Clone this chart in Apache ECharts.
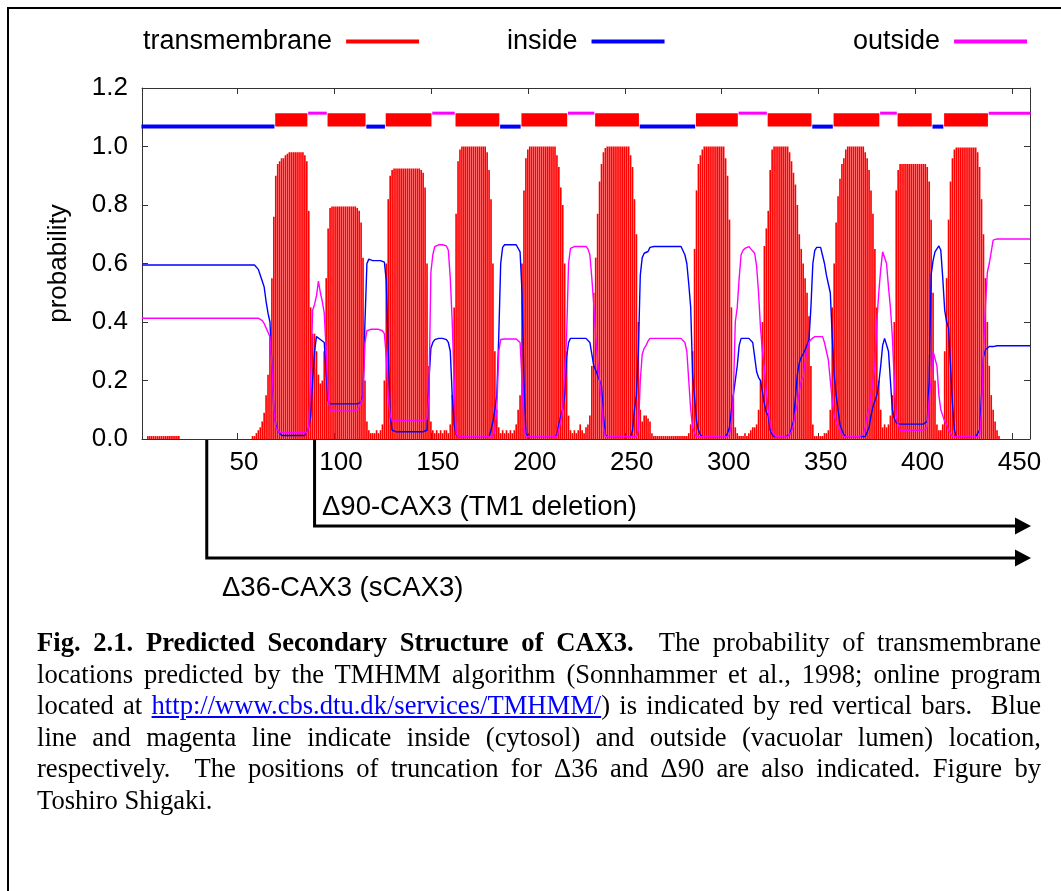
<!DOCTYPE html>
<html>
<head>
<meta charset="utf-8">
<title>TMHMM prediction of CAX3</title>
<script src="https://cdn.jsdelivr.net/npm/echarts@6/dist/echarts.min.js"></script>
<style>
    html, body { margin: 0; padding: 0; background: #fff; }
    #chartMain { position: absolute; left: 0; top: 0; width: 1061px; height: 891px; }
    #caption {
        position: absolute; left: 37px; top: 627px; width: 1004px;
        font-family: 'Liberation Serif', 'Times New Roman', serif;
        font-size: 26.6px; line-height: 31.6px; color: #000;
    }
    #caption .ln { text-align: justify; text-align-last: justify; white-space: nowrap; }
    #caption .last { text-align: left; text-align-last: left; }
    #caption a { color: #0000ff; text-decoration: underline; }
</style>
</head>
<body>
<div id="chartMain"></div>
<div id="caption">
    <div class="ln"><b>Fig. 2.1. Predicted Secondary Structure of CAX3.</b>&nbsp; The probability of transmembrane</div>
    <div class="ln">locations predicted by the TMHMM algorithm (Sonnhammer et al., 1998; online program</div>
    <div class="ln">located at <a>http://www.cbs.dtu.dk/services/TMHMM/</a>) is indicated by red vertical bars.&nbsp; Blue</div>
    <div class="ln">line and magenta line indicate inside (cytosol) and outside (vacuolar lumen) location,</div>
    <div class="ln">respectively.&nbsp; The positions of truncation for &Delta;36 and &Delta;90 are also indicated. Figure by</div>
    <div class="ln last">Toshiro Shigaki.</div>
</div>
<script>
    // per-residue posterior probabilities (residue 1..459)
    const tmProb = [
        0,0,0,0.01,0.01,0.01,0.01,0.01,0.01,0.01,
        0.01,0.01,0.01,0.01,0.01,0.01,0.01,0.01,0.01,0.01,
        0,0,0,0,0,0,0,0,0,0,
        0,0,0,0,0,0,0,0,0,0,
        0,0,0,0,0,0,0,0,0,0,
        0,0,0,0,0,0,0,0.01,0.01,0.02,
        0.03,0.04,0.06,0.09,0.15,0.22,0.35,0.55,0.76,0.9,
        0.94,0.95,0.96,0.96,0.97,0.975,0.98,0.98,0.98,0.98,
        0.98,0.98,0.98,0.98,0.97,0.95,0.78,0.45,0.36,0.36,
        0.3,0.22,0.19,0.2,0.3,0.55,0.72,0.79,0.795,0.795,
        0.795,0.795,0.795,0.795,0.795,0.795,0.795,0.795,0.795,0.795,
        0.795,0.79,0.78,0.74,0.62,0.2,0.06,0.03,0.02,0.02,
        0.02,0.03,0.02,0.03,0.05,0.2,0.6,0.82,0.9,0.92,
        0.925,0.925,0.925,0.925,0.925,0.925,0.925,0.925,0.925,0.925,
        0.925,0.925,0.925,0.925,0.92,0.91,0.86,0.6,0.25,0.06,
        0.03,0.02,0.03,0.02,0.03,0.02,0.03,0.03,0.02,0.05,
        0.15,0.45,0.77,0.95,0.99,1,1,1,1,1,
        1,1,1,1,1,1,1,1,0.98,0.92,
        0.82,0.6,0.3,0.1,0.04,0.02,0.03,0.02,0.03,0.02,
        0.03,0.02,0.03,0.05,0.1,0.15,0.6,0.85,0.96,0.99,
        1,1,1,1,1,1,1,1,1,1,
        1,1,1,1,0.97,0.93,0.86,0.8,0.6,0.3,
        0.08,0.03,0.02,0.03,0.02,0.03,0.05,0.03,0.02,0.04,
        0.05,0.08,0.25,0.5,0.62,0.77,0.88,0.94,0.98,0.995,
        1,1,1,1,1,1,1,1,1,1,
        1,1,0.97,0.93,0.82,0.7,0.4,0.1,0.06,0.08,
        0.08,0.07,0.06,0.02,0.01,0.01,0.01,0.01,0.01,0.01,
        0.01,0.01,0.01,0.01,0.01,0.01,0.01,0.01,0.01,0.01,
        0.01,0.01,0.02,0.05,0.3,0.65,0.85,0.94,0.97,0.99,
        1,1,1,1,1,1,1,1,1,1,
        1,0.96,0.9,0.75,0.45,0.15,0.04,0.02,0.01,0.01,
        0.01,0.02,0.01,0.02,0.03,0.04,0.04,0.05,0.1,0.2,
        0.4,0.66,0.72,0.78,0.92,0.99,1,1,1,1,
        1,1,1,1,0.98,0.95,0.91,0.87,0.8,0.7,
        0.65,0.6,0.55,0.5,0.42,0.25,0.05,0.01,0.01,0.01,
        0.01,0.01,0.02,0.02,0.03,0.1,0.45,0.6,0.74,0.83,
        0.89,0.94,0.96,0.99,1,1,1,1,1,1,
        1,1,1,0.98,0.96,0.92,0.85,0.77,0.65,0.45,
        0.2,0.1,0.04,0.05,0.04,0.05,0.08,0.15,0.4,0.85,
        0.92,0.94,0.94,0.94,0.94,0.94,0.94,0.94,0.94,0.94,
        0.94,0.94,0.94,0.94,0.94,0.93,0.88,0.75,0.5,0.2,
        0.05,0.03,0.03,0.05,0.3,0.55,0.75,0.88,0.96,0.99,
        0.997,0.997,0.997,0.997,0.997,0.997,0.997,0.997,0.997,0.997,
        0.997,0.98,0.93,0.82,0.7,0.55,0.4,0.25,0.15,0.1,
        0.06,0.03,0.01,0,0,0,0,0,0,0,
        0,0,0,0,0,0,0,0,0
    ];
    const insideProb = [
        0.595,0.595,0.595,0.595,0.595,0.595,0.595,0.595,0.595,0.595,
        0.595,0.595,0.595,0.595,0.595,0.595,0.595,0.595,0.595,0.595,
        0.595,0.595,0.595,0.595,0.595,0.595,0.595,0.595,0.595,0.595,
        0.595,0.595,0.595,0.595,0.595,0.595,0.595,0.595,0.595,0.595,
        0.595,0.595,0.595,0.595,0.595,0.595,0.595,0.595,0.595,0.595,
        0.595,0.595,0.595,0.595,0.595,0.595,0.595,0.595,0.595,0.595,
        0.58,0.56,0.54,0.52,0.47,0.43,0.4,0.25,0.1,0.05,
        0.03,0.02,0.012,0.012,0.012,0.012,0.012,0.012,0.012,0.012,
        0.012,0.012,0.012,0.012,0.012,0.012,0.04,0.08,0.2,0.3,
        0.35,0.355,0.34,0.335,0.33,0.22,0.13,0.12,0.12,0.12,
        0.12,0.12,0.12,0.12,0.12,0.12,0.12,0.12,0.12,0.12,
        0.12,0.12,0.12,0.125,0.15,0.4,0.6,0.615,0.61,0.61,
        0.61,0.61,0.61,0.61,0.61,0.605,0.54,0.3,0.08,0.03,
        0.025,0.025,0.025,0.025,0.025,0.025,0.025,0.025,0.025,0.025,
        0.025,0.025,0.025,0.025,0.025,0.025,0.025,0.03,0.2,0.31,
        0.33,0.34,0.344,0.344,0.344,0.344,0.344,0.34,0.33,0.3,
        0.15,0.05,0.015,0.008,0.008,0.008,0.008,0.008,0.008,0.008,
        0.008,0.008,0.008,0.008,0.008,0.008,0.008,0.008,0.008,0.008,
        0.03,0.06,0.1,0.15,0.35,0.6,0.655,0.664,0.664,0.664,
        0.664,0.664,0.664,0.664,0.66,0.64,0.5,0.2,0.02,0.008,
        0.008,0.008,0.008,0.008,0.008,0.008,0.008,0.008,0.008,0.008,
        0.008,0.008,0.008,0.008,0.015,0.05,0.08,0.1,0.15,0.28,
        0.33,0.344,0.344,0.344,0.344,0.344,0.344,0.344,0.344,0.344,
        0.34,0.33,0.29,0.25,0.235,0.23,0.2,0.18,0.08,0.015,
        0.008,0.008,0.008,0.008,0.008,0.008,0.008,0.008,0.008,0.008,
        0.008,0.008,0.008,0.03,0.1,0.15,0.3,0.56,0.62,0.635,
        0.638,0.641,0.655,0.658,0.658,0.658,0.658,0.658,0.658,0.658,
        0.658,0.658,0.658,0.658,0.658,0.658,0.658,0.658,0.658,0.658,
        0.63,0.6,0.53,0.45,0.22,0.14,0.06,0.03,0.015,0.008,
        0.008,0.008,0.008,0.008,0.008,0.008,0.008,0.008,0.008,0.008,
        0.008,0.008,0.02,0.04,0.1,0.15,0.2,0.25,0.32,0.344,
        0.344,0.344,0.344,0.344,0.344,0.33,0.28,0.23,0.21,0.2,
        0.16,0.12,0.09,0.08,0.03,0.015,0.008,0.008,0.008,0.008,
        0.008,0.008,0.008,0.008,0.015,0.02,0.06,0.14,0.22,0.26,
        0.28,0.29,0.305,0.32,0.34,0.45,0.6,0.645,0.655,0.655,
        0.655,0.655,0.6,0.56,0.53,0.5,0.35,0.22,0.15,0.1,
        0.05,0.03,0.015,0.008,0.008,0.008,0.008,0.008,0.008,0.008,
        0.008,0.008,0.008,0.008,0.008,0.04,0.08,0.11,0.13,0.15,
        0.19,0.25,0.32,0.344,0.344,0.3,0.2,0.1,0.07,0.055,
        0.051,0.051,0.051,0.051,0.051,0.051,0.051,0.051,0.051,0.051,
        0.051,0.051,0.051,0.051,0.051,0.06,0.2,0.56,0.61,0.64,
        0.65,0.66,0.645,0.55,0.44,0.4,0.38,0.25,0.12,0.03,
        0.008,0.008,0.008,0.008,0.008,0.008,0.008,0.008,0.008,0.008,
        0.008,0.008,0.03,0.15,0.28,0.305,0.31,0.316,0.316,0.316,
        0.319,0.319,0.319,0.319,0.319,0.319,0.319,0.319,0.319,0.319,
        0.319,0.319,0.319,0.319,0.319,0.319,0.319,0.319,0.319
    ];
    const outsideProb = [
        0.413,0.413,0.413,0.413,0.413,0.413,0.413,0.413,0.413,0.413,
        0.413,0.413,0.413,0.413,0.413,0.413,0.413,0.413,0.413,0.413,
        0.413,0.413,0.413,0.413,0.413,0.413,0.413,0.413,0.413,0.413,
        0.413,0.413,0.413,0.413,0.413,0.413,0.413,0.413,0.413,0.413,
        0.413,0.413,0.413,0.413,0.413,0.413,0.413,0.413,0.413,0.413,
        0.413,0.413,0.413,0.413,0.413,0.413,0.413,0.413,0.413,0.413,
        0.413,0.41,0.405,0.395,0.38,0.365,0.35,0.25,0.1,0.04,
        0.03,0.022,0.022,0.022,0.022,0.022,0.022,0.022,0.022,0.022,
        0.022,0.022,0.022,0.022,0.022,0.022,0.04,0.2,0.44,0.46,
        0.49,0.54,0.5,0.47,0.43,0.3,0.15,0.098,0.096,0.096,
        0.096,0.096,0.096,0.096,0.096,0.096,0.096,0.096,0.096,0.096,
        0.097,0.1,0.11,0.125,0.14,0.33,0.37,0.375,0.375,0.375,
        0.375,0.375,0.375,0.375,0.37,0.36,0.28,0.15,0.08,0.065,
        0.063,0.063,0.063,0.063,0.063,0.063,0.063,0.063,0.063,0.063,
        0.063,0.063,0.063,0.063,0.063,0.063,0.063,0.07,0.15,0.57,
        0.63,0.658,0.664,0.664,0.664,0.664,0.664,0.66,0.645,0.55,
        0.4,0.2,0.02,0.008,0.008,0.008,0.008,0.008,0.008,0.008,
        0.008,0.008,0.008,0.008,0.008,0.008,0.008,0.008,0.008,0.008,
        0.008,0.008,0.03,0.1,0.3,0.34,0.342,0.342,0.342,0.342,
        0.342,0.342,0.342,0.342,0.342,0.33,0.2,0.04,0.008,0.008,
        0.008,0.008,0.008,0.008,0.008,0.008,0.008,0.008,0.008,0.008,
        0.008,0.008,0.008,0.008,0.008,0.008,0.06,0.1,0.1,0.35,
        0.6,0.652,0.658,0.658,0.658,0.658,0.658,0.658,0.658,0.658,
        0.65,0.63,0.55,0.46,0.35,0.27,0.2,0.13,0.04,0.008,
        0.008,0.008,0.008,0.008,0.008,0.008,0.008,0.008,0.008,0.008,
        0.008,0.008,0.008,0.008,0.008,0.008,0.03,0.2,0.29,0.31,
        0.32,0.335,0.344,0.344,0.344,0.344,0.344,0.344,0.344,0.344,
        0.344,0.344,0.344,0.344,0.344,0.344,0.344,0.344,0.344,0.344,
        0.33,0.3,0.2,0.1,0.04,0.02,0.008,0.008,0.008,0.008,
        0.008,0.008,0.008,0.008,0.008,0.008,0.008,0.008,0.008,0.008,
        0.008,0.008,0.008,0.015,0.05,0.15,0.4,0.45,0.55,0.63,
        0.645,0.652,0.658,0.658,0.65,0.645,0.635,0.59,0.5,0.38,
        0.3,0.24,0.16,0.1,0.05,0.025,0.015,0.008,0.008,0.008,
        0.008,0.008,0.008,0.008,0.008,0.025,0.05,0.09,0.12,0.16,
        0.2,0.21,0.26,0.3,0.33,0.34,0.344,0.35,0.35,0.35,
        0.35,0.35,0.33,0.3,0.27,0.2,0.13,0.08,0.06,0.04,
        0.03,0.015,0.008,0.008,0.008,0.008,0.008,0.008,0.008,0.008,
        0.008,0.008,0.015,0.04,0.08,0.1,0.15,0.2,0.25,0.4,
        0.5,0.58,0.64,0.645,0.6,0.52,0.45,0.35,0.2,0.08,
        0.05,0.03,0.03,0.03,0.03,0.03,0.03,0.03,0.03,0.03,
        0.03,0.03,0.03,0.03,0.03,0.04,0.14,0.2,0.3,0.3,
        0.25,0.15,0.1,0.08,0.06,0.05,0.03,0.02,0.008,0.008,
        0.008,0.008,0.008,0.008,0.008,0.008,0.008,0.008,0.008,0.008,
        0.008,0.008,0.008,0.1,0.3,0.45,0.57,0.6,0.64,0.68,
        0.684,0.684,0.684,0.684,0.684,0.684,0.684,0.684,0.684,0.684,
        0.684,0.684,0.684,0.684,0.684,0.684,0.684,0.684,0.684
    ];

    // predicted topology (start, end residue)
    const tmSegments = [[70,86],[97,116],[127,150],[163,185],[197,220],[235,257],
                        [287,308],[324,346],[358,381],[391,408],[415,437]];
    const insideSegments = [[1,69],[117,126],[186,196],[258,286],[347,357],[409,414]];
    const outsideSegments = [[87,96],[151,162],[221,234],[309,323],[382,390],[438,459]];

    // truncation sites drawn under the axis
    const truncSites = [34.4, 90];
    const truncLabels = ['\u039436-CAX3 (sCAX3)', '\u039490-CAX3 (TM1 deletion)'];

    const seqLength = 459;
    const RED = '#ff0000', BLUE = '#0000ff', MAGENTA = '#ff00ff';
    const FONT = "'Liberation Sans', Arial, sans-serif";

    const toPairs = arr => arr.map((v, i) => [i + 1, v]);

    function segRenderer(kind) {
        return function (params, api) {
            const x0 = api.coord([api.value(0) - 0.3, 0])[0];
            const x1 = api.coord([api.value(1) + 0.3, 0])[0];
            if (kind === 'tm') {
                const yTop = api.coord([0, 1.114])[1];
                const yBot = api.coord([0, 1.068])[1];
                return { type: 'rect', shape: { x: x0, y: yTop, width: x1 - x0, height: yBot - yTop },
                         style: { fill: RED } };
            }
            const yc = api.coord([0, kind === 'in' ? 1.068 : 1.114])[1];
            const h = kind === 'in' ? 4 : 3;
            return { type: 'rect', shape: { x: x0, y: yc - h / 2, width: x1 - x0, height: h },
                     style: { fill: kind === 'in' ? BLUE : MAGENTA } };
        };
    }

    const legendBase = {
        orient: 'horizontal', align: 'right', icon: 'rect',
        itemWidth: 73, itemHeight: 4, padding: 0, top: 28,
        selectedMode: false,
        textStyle: { fontSize: 27, color: '#000', fontFamily: FONT, padding: [0, 9, 0, 0] }
    };

    const xAxisBase = {
        type: 'value', min: 1, max: seqLength, splitNumber: 9,
        axisLine: { show: true, onZero: false, lineStyle: { color: '#333', width: 1 } },
        axisTick: { show: true, inside: true, length: 6, lineStyle: { color: '#333' } },
        splitLine: { show: false }
    };
    const yAxisBase = {
        type: 'value', min: 0, max: 1.2, interval: 0.2,
        axisLine: { show: true, lineStyle: { color: '#333', width: 1 } },
        axisTick: { show: true, inside: true, length: 6, lineStyle: { color: '#333' } },
        splitLine: { show: false }
    };

    const myChart = echarts.init(document.getElementById('chartMain'));
    myChart.setOption({
        animation: false,
        backgroundColor: '#fff',
        textStyle: { fontFamily: FONT },
        grid: { left: 142, right: 31, top: 88, bottom: 452 },
        legend: [
            Object.assign({}, legendBase, { left: 143, data: ['transmembrane'] }),
            Object.assign({}, legendBase, { left: 507, data: ['inside'] }),
            Object.assign({}, legendBase, { left: 853, data: ['outside'] })
        ],
        xAxis: [
            Object.assign({}, xAxisBase, {
                position: 'bottom',
                axisLabel: {
                    fontSize: 26, color: '#000', margin: 11, padding: [0, 0, 0, 14],
                    formatter: v => (v % 50 === 0 ? String(v) : '')
                }
            }),
            Object.assign({}, xAxisBase, { position: 'top', axisLabel: { show: false } })
        ],
        yAxis: [
            Object.assign({}, yAxisBase, {
                position: 'left',
                name: 'probability', nameLocation: 'middle', nameGap: 70,
                nameTextStyle: { fontSize: 26, color: '#000', fontFamily: FONT },
                axisLabel: { fontSize: 26, color: '#000', margin: 14, formatter: v => v.toFixed(1) }
            }),
            Object.assign({}, yAxisBase, { position: 'right', axisLabel: { show: false } })
        ],
        series: [
            {
                name: 'transmembrane', type: 'bar', barWidth: 1.65,
                itemStyle: { color: RED }, silent: true,
                data: toPairs(tmProb)
            },
            {
                name: 'inside', type: 'line', showSymbol: false, silent: true,
                lineStyle: { color: BLUE, width: 1.4 }, itemStyle: { color: BLUE },
                data: toPairs(insideProb)
            },
            {
                name: 'outside', type: 'line', showSymbol: false, silent: true,
                lineStyle: { color: MAGENTA, width: 1.4 }, itemStyle: { color: MAGENTA },
                data: toPairs(outsideProb)
            },
            { type: 'custom', renderItem: segRenderer('tm'), encode: { x: [0, 1] }, data: tmSegments, silent: true },
            { type: 'custom', renderItem: segRenderer('in'), encode: { x: [0, 1] }, data: insideSegments, silent: true },
            { type: 'custom', renderItem: segRenderer('out'), encode: { x: [0, 1] }, data: outsideSegments, silent: true }
        ]
    });

    // truncation arrows below the axis, anchored to residue positions
    const axisY = myChart.convertToPixel({ yAxisIndex: 0 }, 0);
    const arrowEnd = 1031;
    const arrowRows = [558, 526];
    const labelPos = [[222, 588], [322, 507]];
    const graphics = [{
        type: 'rect', silent: true,
        shape: { x: 8, y: 8, width: 1100, height: 1000 },
        style: { fill: 'none', stroke: '#000', lineWidth: 2 }
    }];
    truncSites.forEach((site, i) => {
        const px = myChart.convertToPixel({ xAxisIndex: 0 }, site);
        const row = arrowRows[i];
        graphics.push({
            type: 'polyline', silent: true,
            shape: { points: [[px, axisY], [px, row], [arrowEnd - 14, row]] },
            style: { stroke: '#000', lineWidth: 3, fill: 'none' }
        });
        graphics.push({
            type: 'polygon', silent: true,
            shape: { points: [[arrowEnd - 16, row - 8.5], [arrowEnd, row], [arrowEnd - 16, row + 8.5]] },
            style: { fill: '#000' }
        });
        graphics.push({
            type: 'text', silent: true, x: labelPos[i][0], y: labelPos[i][1],
            style: { text: truncLabels[i], fontSize: 27.5, fontFamily: FONT, fill: '#000', verticalAlign: 'middle' }
        });
    });
    myChart.setOption({ graphic: graphics });
</script>
</body>
</html>
